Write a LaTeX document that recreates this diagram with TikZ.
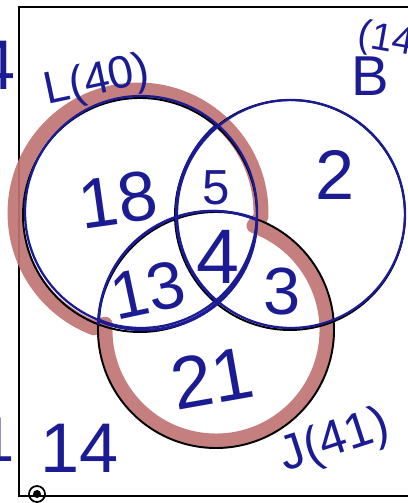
\documentclass[tikz,border=0pt]{standalone}
\usepackage{fontspec}
\setmainfont{Liberation Sans}
\usetikzlibrary{calc}
\definecolor{penBlue}{HTML}{1B1B94}
\definecolor{markerRed}{HTML}{C07474}
\tikzset{
  pen/.style={draw=penBlue,line width=1.3pt},
  rim/.style={draw=black,line width=1.1pt},
  marker/.style={draw=markerRed,line width=8.5pt,line cap=round,line join=round,opacity=0.92},
  hand/.style={text=penBlue,inner sep=0pt,font=\fontsize{#1}{#1}\selectfont},
}

\begin{document}
\begin{tikzpicture}[x=0.02cm,y=-0.02cm]
\useasboundingbox (0,0) rectangle (407,503);
\coordinate (Lc) at (140,215); \coordinate (Bc) at (290,215); \coordinate (Jc) at (216,330);
\draw[line width=1.7pt] (19,7) rectangle (414,496);
\draw[marker] ($(138,213)+(2:123)$) arc[start angle=2,end angle=-249,radius=123] -- ($(Jc)+(183:111)$) arc[start angle=183,end angle=-70,radius=111] -- cycle;
\draw[rim] (Lc) circle[radius=117]; \draw[rim] (Bc) circle[radius=115]; \draw[rim] (Jc) circle[radius=118];
\draw[pen] (141,212) circle[radius=116]; \draw[pen] (291,214) circle[radius=114];
\begin{scope} \clip (Lc) circle[radius=117]; \draw[pen] (214,327) circle[radius=116]; \draw[pen] (212,324) circle[radius=113]; \draw[pen] (293,213) circle[radius=117]; \end{scope}
\begin{scope} \clip (Jc) circle[radius=118]; \draw[pen] (143,216) circle[radius=114]; \draw[pen] (146,219) circle[radius=111]; \end{scope}
\node[hand=26,rotate=12] (Llab) at (97,82) {L(40)};
\node[hand=32] (Blab) at (370,76) {B}; \node[hand=22,rotate=-10] (Bnum) at (392,42) {(14)};
\node[hand=40,rotate=8] (nL) at (118,200) {18};
\node[hand=28] (nLB) at (216,188) {5};
\node[hand=40] (nB) at (335,175) {2};
\node[hand=44] (nLBJ) at (218,257) {4};
\node[hand=38,rotate=12] (nLJ) at (148,290) {13};
\node[hand=38] (nBJ) at (282,292) {3};
\node[hand=42,rotate=10] (nJ) at (212,378) {21};
\node[hand=40] (nOut) at (80,448) {14};
\node[hand=28,rotate=18] (Jlab) at (335,442) {J(41)};
\node[hand=40] (edge4) at (-4,65) {4}; \node[hand=36] (edge1) at (-3,440) {1};
\fill (37,494) circle[radius=4]; \draw[line width=1pt] (37,494) circle[radius=8];
\end{tikzpicture}
\end{document}
